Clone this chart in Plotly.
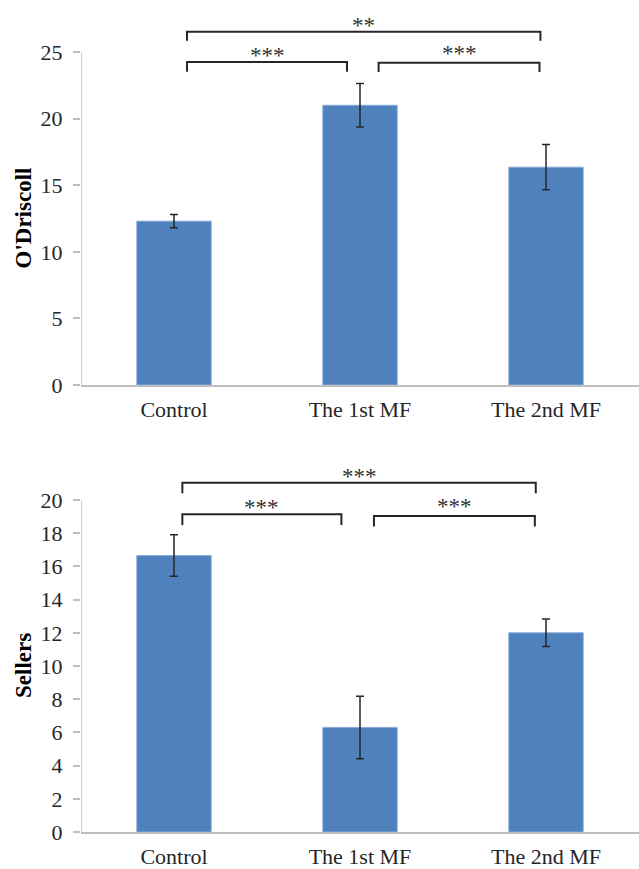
import plotly.graph_objects as go

# ---------------- data ----------------
categories = ["Control", "The 1st MF", "The 2nd MF"]

odriscoll_mean = [12.3, 21.0, 16.35]
odriscoll_err = [0.5, 1.63, 1.7]

sellers_mean = [16.65, 6.3, 12.0]
sellers_err = [1.25, 1.88, 0.83]

odriscoll_ticks = [0, 5, 10, 15, 20, 25]
sellers_ticks = [0, 2, 4, 6, 8, 10, 12, 14, 16, 18, 20]

# significance brackets: (x_start, x_end, label)
odriscoll_sig = [(0, 2, "**"), (0, 1, "***"), (1, 2, "***")]
sellers_sig = [(0, 2, "***"), (0, 1, "***"), (1, 2, "***")]

# ---------------- layout helpers ----------------
W, H = 639, 869
FONT = "Liberation Serif"
BAR = "#4F81BD"
DARK = "#262626"
AXIS = "#BFBFBF"

xpos = list(range(len(categories)))

# bracket geometry (data units): x offsets, line level, tick end level, star shift
top_geo = [  # (x0, x1, y_line, y_end, star_shift_px)
    (0.07, 1.97, 26.52, 25.85, -8),
    (0.07, 0.93, 24.25, 23.52, -8),
    (1.10, 1.965, 24.20, 23.50, -5),
]
bot_geo = [
    (0.045, 1.945, 21.04, 20.40, -8),
    (0.045, 0.90, 19.14, 18.50, -8),
    (1.075, 1.94, 19.04, 18.40, -5),
]

fig = go.Figure()


def add_panel(means, errs, ticks, sig, geo, xa, ya):
    fig.add_trace(go.Bar(
        x=xpos, y=means, width=0.4,
        marker=dict(color=BAR, line=dict(color="#86ABDB", width=1)),
        error_y=dict(type="data", array=errs, visible=True,
                     color=DARK, thickness=1.5, width=4),
        xaxis=xa, yaxis=ya, showlegend=False, hoverinfo="skip",
    ))
    # y-axis line from 0 to the last tick
    fig.add_trace(go.Scatter(
        x=[-0.5, -0.5], y=[ticks[0], ticks[-1]], mode="lines",
        line=dict(color=AXIS, width=1.5), cliponaxis=False,
        xaxis=xa, yaxis=ya, showlegend=False, hoverinfo="skip",
    ))
    for (i0, i1, lab), (x0, x1, yl, ye, sh) in zip(sig, geo):
        fig.add_trace(go.Scatter(
            x=[x0, x0, x1, x1], y=[ye, yl, yl, ye], mode="lines",
            line=dict(color=DARK, width=2), cliponaxis=False,
            xaxis=xa, yaxis=ya, showlegend=False, hoverinfo="skip",
        ))
        fig.add_annotation(
            x=(x0 + x1) / 2, y=yl, xref=xa, yref=ya, text=lab,
            showarrow=False, yanchor="bottom", yshift=sh,
            font=dict(family=FONT, size=23, color="#333333"),
        )


add_panel(odriscoll_mean, odriscoll_err, odriscoll_ticks, odriscoll_sig, top_geo, "x", "y")
add_panel(sellers_mean, sellers_err, sellers_ticks, sellers_sig, bot_geo, "x2", "y2")

# pixel geometry of the plotting areas
left_px = 81
top_zero_px, top_max_px = 385, 52        # y=0 and y=25
bot_zero_px, bot_max_px = 832, 500       # y=0 and y=20

top_scale = (top_zero_px - top_max_px) / odriscoll_ticks[-1]
bot_scale = (bot_zero_px - bot_max_px) / sellers_ticks[-1]

top_dom = [(H - top_zero_px) / H, 1.0]
top_range = [0, top_zero_px / top_scale]
bot_top_px = 440
bot_dom = [(H - bot_zero_px) / H, (H - bot_top_px) / H]
bot_range = [0, (bot_zero_px - bot_top_px) / bot_scale]

xaxis_common = dict(
    range=[-0.5, 2.5], tickvals=xpos, ticktext=categories,
    showline=True, linecolor=AXIS, linewidth=1.5, ticks="",
    showgrid=False, zeroline=False, fixedrange=True, automargin=False,
    tickfont=dict(family=FONT, size=22, color=DARK),
    ticklabelstandoff=4,
    domain=[left_px / W, 1.0],
)
yaxis_common = dict(
    showline=False, ticks="outside", ticklen=7, tickcolor=AXIS, tickwidth=1.5,
    showgrid=False, zeroline=False, fixedrange=True, automargin=False,
    tickfont=dict(family=FONT, size=22, color=DARK),
    ticklabelstandoff=6,
)

fig.update_layout(
    width=W, height=H,
    margin=dict(l=0, r=0, t=0, b=0, autoexpand=False),
    paper_bgcolor="white", plot_bgcolor="white",
    xaxis=dict(anchor="y", **xaxis_common),
    xaxis2=dict(anchor="y2", **xaxis_common),
    yaxis=dict(anchor="x", domain=top_dom, range=top_range,
               tickvals=odriscoll_ticks, **yaxis_common),
    yaxis2=dict(anchor="x2", domain=bot_dom, range=bot_range,
                tickvals=sellers_ticks, **yaxis_common),
    bargap=0.6,
)

# y-axis titles centred on the ticked range
fig.add_annotation(
    x=23 / W, xref="paper", xanchor="center", y=odriscoll_ticks[-1] / 2, yref="y",
    yanchor="middle", text="O'Driscoll", textangle=-90, showarrow=False,
    font=dict(family=FONT, size=23, color="black", weight="bold"),
)
fig.add_annotation(
    x=23 / W, xref="paper", xanchor="center", y=sellers_ticks[-1] / 2, yref="y2",
    yanchor="middle", text="Sellers", textangle=-90, showarrow=False,
    font=dict(family=FONT, size=23, color="black", weight="bold"),
)

fig.write_html(
    "out.html",
    config={"displayModeBar": False},
    post_script="document.body.style.margin='0';document.body.style.overflow='hidden';",
)
